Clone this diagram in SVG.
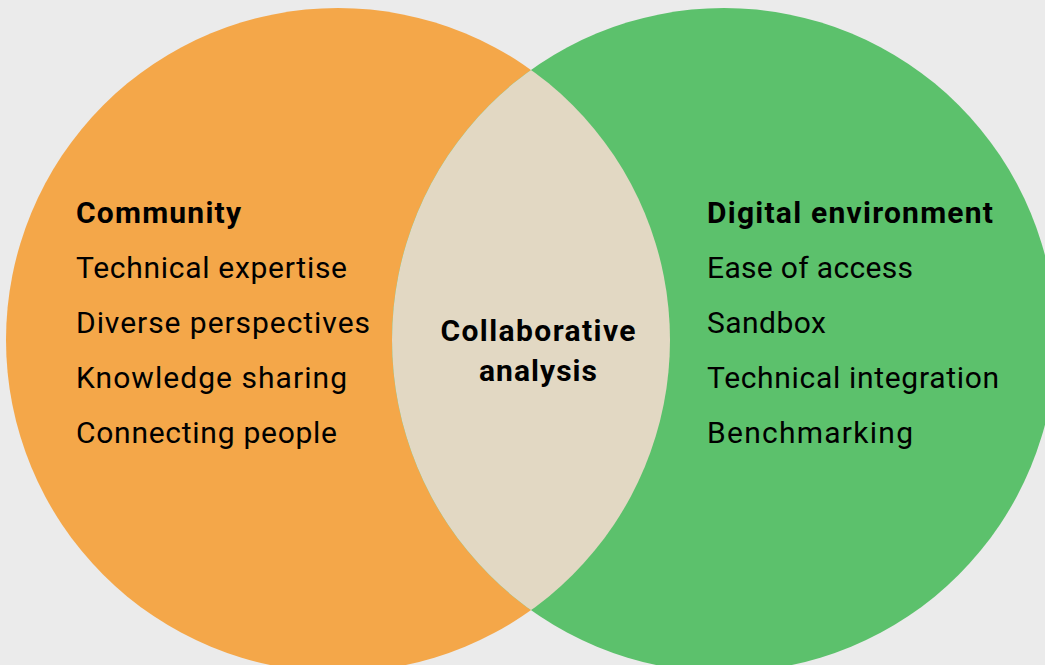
<svg xmlns="http://www.w3.org/2000/svg" width="1045" height="665" viewBox="0 0 1045 665">
<style>
text{font-family:Roboto,"DejaVu Sans",sans-serif;fill:#000;}
.item{font-size:30px;}
.head{font-size:30px;font-weight:bold;}
.center{font-size:30px;font-weight:bold;text-anchor:middle;}
</style>
<defs>
<clipPath id="leftClip"><circle cx="338" cy="340" r="332"/></clipPath>
</defs>
<rect width="1045" height="665" fill="#ebebeb"/>
<g id="community">
<circle cx="338" cy="340" r="332" fill="#f4a749"/>
</g>
<g id="digital">
<circle cx="724" cy="340" r="332" fill="#5cc16c"/>
</g>
<g id="overlap">
<circle cx="724" cy="340" r="332" fill="#e2d8c3" clip-path="url(#leftClip)"/>
</g>
<g id="community-text">
<text class="head" x="76" y="223" textLength="165" lengthAdjust="spacing">Community</text>
<text class="item" x="76" y="278" textLength="271" lengthAdjust="spacing">Technical expertise</text>
<text class="item" x="76" y="333" textLength="294" lengthAdjust="spacing">Diverse perspectives</text>
<text class="item" x="76" y="388" textLength="271" lengthAdjust="spacing">Knowledge sharing</text>
<text class="item" x="76" y="443" textLength="261" lengthAdjust="spacing">Connecting people</text>
</g>
<g id="collab-text">
<text class="center" x="538" y="341" textLength="195" lengthAdjust="spacing">Collaborative</text>
<text class="center" x="538" y="381" textLength="118" lengthAdjust="spacing">analysis</text>
</g>
<g id="digital-text">
<text class="head" x="707" y="223" textLength="286" lengthAdjust="spacing">Digital environment</text>
<text class="item" x="707" y="278" textLength="206" lengthAdjust="spacing">Ease of access</text>
<text class="item" x="707" y="333" textLength="119" lengthAdjust="spacing">Sandbox</text>
<text class="item" x="707" y="388" textLength="292" lengthAdjust="spacing">Technical integration</text>
<text class="item" x="707" y="443" textLength="206" lengthAdjust="spacing">Benchmarking</text>
</g>
<g id="connectors"></g>
</svg>
